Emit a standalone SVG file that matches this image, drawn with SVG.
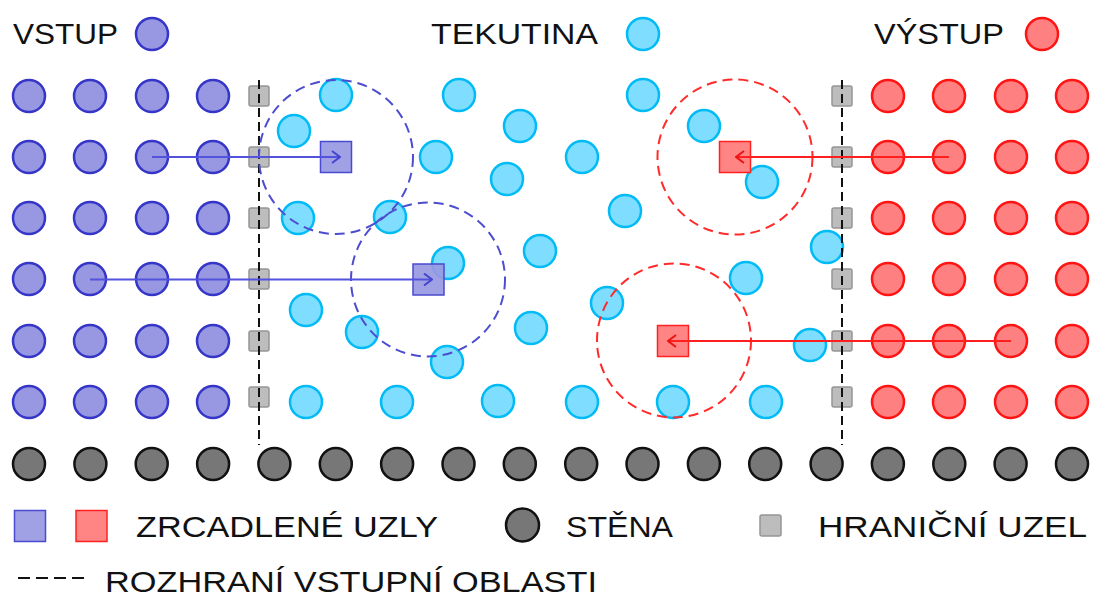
<svg xmlns="http://www.w3.org/2000/svg" width="1093" height="598" viewBox="0 0 1093 598">
<style>
text{font-family:"Liberation Sans",Arial,sans-serif;font-size:30px;fill:#111}
.in{fill:#9898e2;stroke:#3535c8;stroke-width:2.5}
.out{fill:#ff8080;stroke:#ff1414;stroke-width:2.5}
.fl{fill:#7fdeff;stroke:#00bbf5;stroke-width:2.5}
.wall{fill:#777;stroke:#111;stroke-width:2.5}
.bnd{fill:#bdbdbd;stroke:#959595;stroke-width:1.5}
.mb{fill:#9898e2;stroke:#4a4ad0;stroke-width:1.5;fill-opacity:.92}
.mr{fill:#ff7a7a;stroke:#f22;stroke-width:1.5;fill-opacity:.92}
.iface{stroke:#111;stroke-width:2;stroke-dasharray:9 5;fill:none}
.cb{fill:none;stroke:#4d4dd0;stroke-width:2;stroke-dasharray:10 6}
.cr{fill:none;stroke:#ff2a2a;stroke-width:2;stroke-dasharray:10 6}
.ab{stroke:#5252dd;stroke-width:2;fill:none;marker-end:url(#hb)}
.ar{stroke:#ff1f1f;stroke-width:2;fill:none;marker-end:url(#hr)}
</style>
<defs>
<marker id="hb" viewBox="0 0 10 14" refX="9" refY="7" markerWidth="10" markerHeight="14" markerUnits="userSpaceOnUse" orient="auto"><path d="M1,1 L9,7 L1,13" fill="none" stroke="#4444cc" stroke-width="2"/></marker>
<marker id="hr" viewBox="0 0 10 14" refX="9" refY="7" markerWidth="10" markerHeight="14" markerUnits="userSpaceOnUse" orient="auto"><path d="M1,1 L9,7 L1,13" fill="none" stroke="#ee1111" stroke-width="2"/></marker>
</defs>
<rect width="1093" height="598" fill="#fff"/>

<g id="titles">
<text x="13" y="44" textLength="105" lengthAdjust="spacingAndGlyphs">VSTUP</text>
<circle class="in" cx="152" cy="34" r="16"/>
<text x="431" y="44" textLength="167" lengthAdjust="spacingAndGlyphs">TEKUTINA</text>
<circle class="fl" cx="643" cy="34" r="16"/>
<text x="874" y="44" textLength="130" lengthAdjust="spacingAndGlyphs">VÝSTUP</text>
<circle class="out" cx="1042" cy="34" r="16"/>
</g>

<g id="inlet">
<g id="in-r1"><circle class="in" cx="29" cy="96" r="16"/><circle class="in" cx="90" cy="96" r="16"/><circle class="in" cx="152" cy="96" r="16"/><circle class="in" cx="213" cy="96" r="16"/></g>
<g id="in-r2"><circle class="in" cx="29" cy="157" r="16"/><circle class="in" cx="90" cy="157" r="16"/><circle class="in" cx="152" cy="157" r="16"/><circle class="in" cx="213" cy="157" r="16"/></g>
<g id="in-r3"><circle class="in" cx="29" cy="218" r="16"/><circle class="in" cx="90" cy="218" r="16"/><circle class="in" cx="152" cy="218" r="16"/><circle class="in" cx="213" cy="218" r="16"/></g>
<g id="in-r4"><circle class="in" cx="29" cy="279" r="16"/><circle class="in" cx="90" cy="279" r="16"/><circle class="in" cx="152" cy="279" r="16"/><circle class="in" cx="213" cy="279" r="16"/></g>
<g id="in-r5"><circle class="in" cx="29" cy="341" r="16"/><circle class="in" cx="90" cy="341" r="16"/><circle class="in" cx="152" cy="341" r="16"/><circle class="in" cx="213" cy="341" r="16"/></g>
<g id="in-r6"><circle class="in" cx="29" cy="402" r="16"/><circle class="in" cx="90" cy="402" r="16"/><circle class="in" cx="152" cy="402" r="16"/><circle class="in" cx="213" cy="402" r="16"/></g>
</g>

<g id="outlet">
<g id="out-r1"><circle class="out" cx="888" cy="96" r="16"/><circle class="out" cx="949" cy="96" r="16"/><circle class="out" cx="1011" cy="96" r="16"/><circle class="out" cx="1072" cy="96" r="16"/></g>
<g id="out-r2"><circle class="out" cx="888" cy="157" r="16"/><circle class="out" cx="949" cy="157" r="16"/><circle class="out" cx="1011" cy="157" r="16"/><circle class="out" cx="1072" cy="157" r="16"/></g>
<g id="out-r3"><circle class="out" cx="888" cy="218" r="16"/><circle class="out" cx="949" cy="218" r="16"/><circle class="out" cx="1011" cy="218" r="16"/><circle class="out" cx="1072" cy="218" r="16"/></g>
<g id="out-r4"><circle class="out" cx="888" cy="279" r="16"/><circle class="out" cx="949" cy="279" r="16"/><circle class="out" cx="1011" cy="279" r="16"/><circle class="out" cx="1072" cy="279" r="16"/></g>
<g id="out-r5"><circle class="out" cx="888" cy="341" r="16"/><circle class="out" cx="949" cy="341" r="16"/><circle class="out" cx="1011" cy="341" r="16"/><circle class="out" cx="1072" cy="341" r="16"/></g>
<g id="out-r6"><circle class="out" cx="888" cy="402" r="16"/><circle class="out" cx="949" cy="402" r="16"/><circle class="out" cx="1011" cy="402" r="16"/><circle class="out" cx="1072" cy="402" r="16"/></g>
</g>

<g id="fluid">
<circle class="fl" cx="336" cy="95" r="16"/><circle class="fl" cx="459" cy="95" r="16"/><circle class="fl" cx="643" cy="95" r="16"/>
<circle class="fl" cx="294" cy="131" r="16"/><circle class="fl" cx="520" cy="126" r="16"/><circle class="fl" cx="704" cy="126" r="16"/>
<circle class="fl" cx="436" cy="157" r="16"/><circle class="fl" cx="582" cy="157" r="16"/>
<circle class="fl" cx="507" cy="179" r="16"/><circle class="fl" cx="762" cy="182" r="16"/>
<circle class="fl" cx="625" cy="211" r="16"/><circle class="fl" cx="298" cy="218" r="16"/><circle class="fl" cx="390" cy="217" r="16"/>
<circle class="fl" cx="540" cy="251" r="16"/><circle class="fl" cx="827" cy="247" r="16"/>
<circle class="fl" cx="448" cy="263" r="16"/><circle class="fl" cx="746" cy="278" r="16"/>
<circle class="fl" cx="306" cy="310" r="16"/><circle class="fl" cx="607" cy="303" r="16"/>
<circle class="fl" cx="362" cy="332" r="16"/><circle class="fl" cx="531" cy="328" r="16"/>
<circle class="fl" cx="810" cy="345" r="16"/><circle class="fl" cx="447" cy="362" r="16"/>
<circle class="fl" cx="306" cy="402" r="16"/><circle class="fl" cx="397" cy="402" r="16"/><circle class="fl" cx="498" cy="401" r="16"/><circle class="fl" cx="582" cy="402" r="16"/><circle class="fl" cx="673" cy="402" r="16"/><circle class="fl" cx="766" cy="402" r="16"/>
</g>

<g id="wall">
<circle class="wall" cx="29" cy="464" r="16"/><circle class="wall" cx="90.4" cy="464" r="16"/><circle class="wall" cx="151.7" cy="464" r="16"/><circle class="wall" cx="213.1" cy="464" r="16"/><circle class="wall" cx="274.4" cy="464" r="16"/><circle class="wall" cx="335.8" cy="464" r="16"/><circle class="wall" cx="397.1" cy="464" r="16"/><circle class="wall" cx="458.5" cy="464" r="16"/><circle class="wall" cx="519.8" cy="464" r="16"/><circle class="wall" cx="581.2" cy="464" r="16"/><circle class="wall" cx="642.5" cy="464" r="16"/><circle class="wall" cx="703.9" cy="464" r="16"/><circle class="wall" cx="765.2" cy="464" r="16"/><circle class="wall" cx="826.6" cy="464" r="16"/><circle class="wall" cx="887.9" cy="464" r="16"/><circle class="wall" cx="949.3" cy="464" r="16"/><circle class="wall" cx="1010.6" cy="464" r="16"/><circle class="wall" cx="1072" cy="464" r="16"/>
</g>

<g id="boundary">
<rect class="bnd" x="249" y="86" width="20" height="20" rx="2"/><rect class="bnd" x="249" y="147" width="20" height="20" rx="2"/><rect class="bnd" x="249" y="208" width="20" height="20" rx="2"/><rect class="bnd" x="249" y="269" width="20" height="20" rx="2"/><rect class="bnd" x="249" y="331" width="20" height="20" rx="2"/><rect class="bnd" x="249" y="387" width="20" height="20" rx="2"/>
<rect class="bnd" x="832" y="86" width="20" height="20" rx="2"/><rect class="bnd" x="832" y="147" width="20" height="20" rx="2"/><rect class="bnd" x="832" y="208" width="20" height="20" rx="2"/><rect class="bnd" x="832" y="269" width="20" height="20" rx="2"/><rect class="bnd" x="832" y="331" width="20" height="20" rx="2"/><rect class="bnd" x="832" y="387" width="20" height="20" rx="2"/>
</g>

<g id="interfaces">
<line class="iface" x1="259" y1="80" x2="259" y2="445"/>
<line class="iface" x1="842" y1="80" x2="842" y2="445"/>
</g>

<g id="mirrored">
<rect id="mb1" class="mb" x="320.5" y="141.5" width="31" height="31"/>
<rect id="mb2" class="mb" x="413" y="264" width="31" height="31"/>
<rect id="mr1" class="mr" x="719.5" y="141.5" width="31" height="31"/>
<rect id="mr2" class="mr" x="657.5" y="325.5" width="31" height="31"/>
</g>

<g id="connectors">
<circle class="cb" cx="336" cy="157" r="77"/>
<circle class="cb" cx="428" cy="279.5" r="77"/>
<circle class="cr" cx="735" cy="157" r="77.5"/>
<circle class="cr" cx="674" cy="340.5" r="77"/>
<line class="ab" x1="152" y1="157" x2="340" y2="157"/>
<line class="ab" x1="90" y1="279.5" x2="432" y2="279.5"/>
<line class="ar" x1="949" y1="157" x2="736" y2="157"/>
<line class="ar" x1="1011" y1="341" x2="668" y2="341"/>
</g>

<g id="legend">
<rect class="mb" x="14.5" y="510.5" width="31" height="31"/>
<rect class="mr" x="76" y="510.5" width="31" height="31"/>
<text x="136" y="537" textLength="302" lengthAdjust="spacingAndGlyphs">ZRCADLENÉ UZLY</text>
<circle class="wall" cx="522.5" cy="525" r="16.5"/>
<text x="566" y="537" textLength="107" lengthAdjust="spacingAndGlyphs">STĚNA</text>
<rect class="bnd" x="760" y="515" width="21" height="21" rx="2"/>
<text x="818" y="537" textLength="269" lengthAdjust="spacingAndGlyphs">HRANIČNÍ UZEL</text>
<line x1="18" y1="578" x2="86" y2="578" stroke="#111" stroke-width="2" stroke-dasharray="12 6"/>
<text x="105" y="592" textLength="492" lengthAdjust="spacingAndGlyphs">ROZHRANÍ VSTUPNÍ OBLASTI</text>
</g>
</svg>
